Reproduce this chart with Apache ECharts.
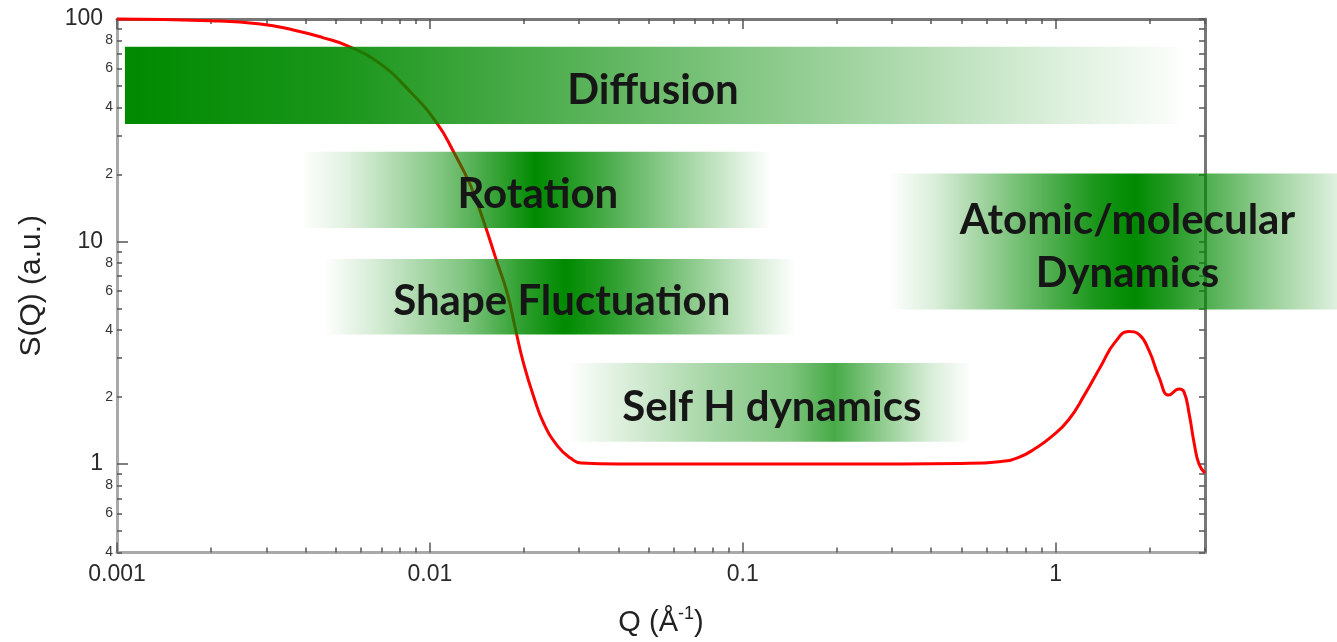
<!DOCTYPE html>
<html><head><meta charset="utf-8">
<script src="https://cdn.jsdelivr.net/npm/echarts@6/dist/echarts.min.js"></script>
<style>html,body{margin:0;padding:0;background:#fff}#c{width:1337px;height:642px}</style>
</head><body><div id="c"></div>
<script>
// ---- data ----
const qValues = [0.001, 0.00199, 0.00287, 0.00366, 0.00457, 0.00545, 0.0068, 0.00867, 0.01058,
  0.0119, 0.0135, 0.01486, 0.01623, 0.01773, 0.01881, 0.01995, 0.02148, 0.02312, 0.02564,
  0.02822, 0.0304, 0.04, 0.07, 0.15, 0.32, 0.5, 0.672, 0.762, 0.857,
  0.972, 1.10, 1.24, 1.405, 1.546, 1.714, 1.845, 1.986, 2.138, 2.30,
  2.478, 2.57, 2.67, 2.77, 2.87, 3.0];
const sValues = [100, 98.3, 95, 89.3, 82.3, 75.8, 64.3, 47.0, 33.7,
  25.3, 17.8, 12.3, 8.42, 5.76, 3.98, 2.81, 2.0, 1.52, 1.20,
  1.06, 1.01, 1.0, 1.0, 1.0, 1.0, 1.005, 1.027, 1.07, 1.17,
  1.33, 1.58, 2.06, 2.81, 3.52, 3.94, 3.82, 3.24, 2.46, 2.04,
  2.17, 2.11, 1.68, 1.24, 1.0, 0.91];

const xMajorTicks = [0.001, 0.01, 0.1, 1];
const xMinorTicks = [0.002,0.003,0.004,0.005,0.006,0.007,0.008,0.009,
  0.02,0.03,0.04,0.05,0.06,0.07,0.08,0.09,
  0.2,0.3,0.4,0.5,0.6,0.7,0.8,0.9, 2,3];
const yMajorTicks = [1, 10, 100];
const yMinorTicks = [0.4,0.5,0.6,0.7,0.8,0.9, 2,3,4,5,6,7,8,9, 20,30,40,50,60,70,80,90];
const yMinorLabels = [0.4,0.6,0.8, 2,4,6,8, 20,40,60,80];

// annotation bands: label, Q range, S range (top, bottom)
const bandNames = ['Diffusion', 'Rotation', 'Shape Fluctuation', 'Self H dynamics', 'Atomic/molecular\nDynamics'];
const bandQStart = [0.00106, 0.00386, 0.00457, 0.0276, 0.292];
const bandQEnd   = [2.44, 0.1233, 0.148, 0.539, 9.55];
const bandSTop   = [75.0, 25.3, 8.34, 2.84, 20.2];
const bandSBottom= [33.7, 11.5, 3.82, 1.26, 4.94];

// ---- styles ----
const bandAlphaStops = [
  [[0,1],[0.2,0.9],[0.45,0.64],[0.7,0.36],[0.9,0.12],[1,0.02]],
  [[0,0],[0.1,0.12],[0.3,0.5],[0.42,0.8],[0.5,1],[0.58,0.85],[0.75,0.5],[0.9,0.2],[1,0]],
  [[0,0],[0.1,0.15],[0.3,0.5],[0.42,0.82],[0.51,1],[0.6,0.85],[0.78,0.45],[0.92,0.15],[1,0]],
  [[0,0],[0.12,0.12],[0.35,0.35],[0.55,0.5],[0.66,0.72],[0.75,0.5],[0.9,0.15],[1,0]],
  [[0,0],[0.1,0.15],[0.3,0.6],[0.44,0.9],[0.52,1],[0.6,0.85],[0.78,0.45],[0.95,0.12],[1,0.05]]
];
const labelFont = '"Liberation Sans", Arial, sans-serif';
const tickColor = '#555';

const chart = echarts.init(document.getElementById('c'), null, {renderer: 'canvas'});

function leadDigit(v) {
  const p = Math.pow(10, Math.floor(Math.log10(v) + 1e-9));
  return String(Math.round(v / p));
}
function fmtNum(v) { return String(parseFloat(Number(v).toPrecision(3))); }

const xCommon = {type: 'log', logBase: 10, min: 0.001, max: 3, splitLine: {show: false}};
const yCommon = {type: 'log', logBase: 10, min: 0.4, max: 100, splitLine: {show: false}};

const option = {
  animation: false,
  backgroundColor: '#fff',
  grid: {left: 117, right: 132, top: 19, bottom: 83, containLabel: false},
  xAxis: [
    Object.assign({}, xCommon, {
      position: 'bottom',
      name: 'Q (Å{sup|-1})', nameLocation: 'middle', nameGap: 53,
      nameTextStyle: {fontFamily: labelFont, fontSize: 29, color: '#222',
        rich: {sup: {fontSize: 18, verticalAlign: 'top', padding: [0,0,16,0], fontFamily: labelFont, color: '#222'}}},
      axisLine: {show: true, onZero: false, lineStyle: {color: '#a9a9a9', width: 3}},
      axisTick: {show: true, inside: true, length: 10, customValues: xMajorTicks, lineStyle: {color: tickColor, width: 1.5}},
      axisLabel: {show: true, customValues: xMajorTicks, margin: 11, fontSize: 23, fontFamily: labelFont, color: '#2a2a2a', formatter: fmtNum}
    }),
    Object.assign({}, xCommon, {
      position: 'bottom',
      axisLine: {show: false, onZero: false},
      axisTick: {show: true, inside: true, length: 5, customValues: xMinorTicks, lineStyle: {color: tickColor, width: 1.5}},
      axisLabel: {show: false}
    }),
    Object.assign({}, xCommon, {
      position: 'top',
      axisLine: {show: true, onZero: false, lineStyle: {color: '#777', width: 3}},
      axisTick: {show: true, inside: true, length: 10, customValues: xMajorTicks, lineStyle: {color: tickColor, width: 1.5}},
      axisLabel: {show: false}
    }),
    Object.assign({}, xCommon, {
      position: 'top',
      axisLine: {show: false, onZero: false},
      axisTick: {show: true, inside: true, length: 5, customValues: xMinorTicks, lineStyle: {color: tickColor, width: 1.5}},
      axisLabel: {show: false}
    })
  ],
  yAxis: [
    Object.assign({}, yCommon, {
      position: 'left',
      name: 'S(Q) (a.u.)', nameLocation: 'middle', nameGap: 70,
      nameTextStyle: {fontFamily: labelFont, fontSize: 30, color: '#222'},
      axisLine: {show: true, onZero: false, lineStyle: {color: '#a9a9a9', width: 3}},
      axisTick: {show: true, inside: true, length: 11, customValues: yMajorTicks, lineStyle: {color: tickColor, width: 1.5}},
      axisLabel: {show: true, customValues: yMajorTicks, margin: 14, fontSize: 23, fontFamily: labelFont, color: '#2a2a2a', formatter: fmtNum}
    }),
    Object.assign({}, yCommon, {
      position: 'left',
      axisLine: {show: false, onZero: false},
      axisTick: {show: true, inside: true, length: 5, customValues: yMinorTicks, lineStyle: {color: tickColor, width: 1.5}},
      axisLabel: {show: true, customValues: yMinorLabels, margin: 4, fontSize: 14, fontFamily: labelFont, color: '#333', formatter: leadDigit}
    }),
    Object.assign({}, yCommon, {
      position: 'right',
      axisLine: {show: true, onZero: false, lineStyle: {color: '#777', width: 3}},
      axisTick: {show: true, inside: true, length: 6, customValues: yMajorTicks.concat(yMinorTicks), lineStyle: {color: tickColor, width: 1.5}},
      axisLabel: {show: false}
    })
  ],
  series: [{
    type: 'line',
    xAxisIndex: 0, yAxisIndex: 0,
    data: qValues.map((q, i) => [q, sValues[i]]),
    smooth: 0.5,
    showSymbol: false,
    clip: false,
    lineStyle: {color: '#ff0000', width: 3},
    z: 3
  }]
};
chart.setOption(option);

// bands drawn above the curve, positioned through the axes' scales
const graphics = [];
bandNames.forEach((name, i) => {
  const p0 = chart.convertToPixel({xAxisIndex: 0, yAxisIndex: 0}, [bandQStart[i], bandSTop[i]]);
  const p1 = chart.convertToPixel({xAxisIndex: 0, yAxisIndex: 0}, [bandQEnd[i], bandSBottom[i]]);
  const stops = bandAlphaStops[i].map(s => ({offset: s[0], color: 'rgba(0,138,0,' + s[1] + ')'}));
  graphics.push({
    type: 'rect', z: 100,
    shape: {x: p0[0], y: p0[1], width: p1[0] - p0[0], height: p1[1] - p0[1]},
    style: {fill: {type: 'linear', x: 0, y: 0, x2: 1, y2: 0, colorStops: stops}}
  });
  graphics.push({
    type: 'text', z: 101,
    x: (p0[0] + p1[0]) / 2 + 2, y: (p0[1] + p1[1]) / 2 + 5,
    style: {text: name, font: 'bold 42px Lato', fill: '#161616', align: 'center', verticalAlign: 'middle', lineHeight: 53}
  });
});
chart.setOption({graphic: {elements: graphics}});
</script>
</body></html>
